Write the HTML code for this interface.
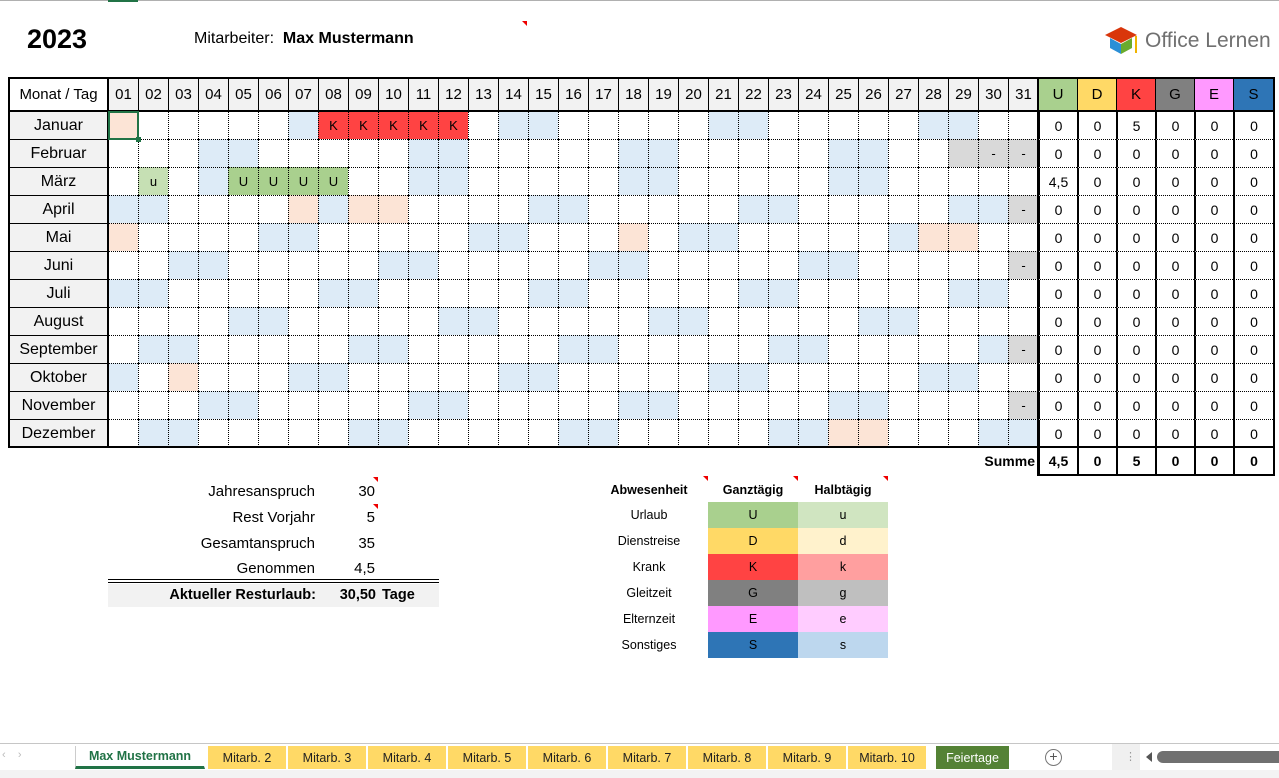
<!DOCTYPE html>
<html><head><meta charset="utf-8">
<style>
*{margin:0;padding:0;box-sizing:border-box}
body{width:1279px;height:778px;position:relative;background:#fff;font-family:"Liberation Sans",Arial,sans-serif;overflow:hidden;color:#000}
.a{position:absolute}
.c{position:absolute;display:flex;align-items:center;justify-content:center;font-size:14px}
.r{position:absolute;text-align:right;font-size:14px}
.tab{position:absolute;top:746px;height:23px;background:#ffd966;font-size:12.5px;display:flex;align-items:center;justify-content:center;color:#222;border-right:1px solid #fff}
</style></head><body>
<div class="a" style="left:0;top:0;width:1279px;height:1px;background:#b0b0b0"></div>
<div class="a" style="left:108px;top:0;width:30px;height:2px;background:#217346"></div>
<div class="a" style="left:27px;top:24px;font-size:27px;font-weight:bold">2023</div>
<div class="a" style="left:194px;top:30px;font-size:16px">Mitarbeiter:&nbsp; <b>Max Mustermann</b></div>
<div class="a" style="left:522px;top:21px;width:0;height:0;border-top:5px solid #e00;border-left:5px solid transparent"></div>
<!-- logo -->
<svg class="a" style="left:1103px;top:26px" width="40" height="30" viewBox="0 0 40 30">
<polygon points="2,9 18,1 34,9 18,17" fill="#d9360b"/>
<polygon points="7,12 18,18 18,28 7,22" fill="#2b8fd6"/>
<polygon points="18,18 29,12 29,22 18,28" fill="#6aab2e"/>
<rect x="32" y="10" width="2" height="17" fill="#f0b400"/>
</svg>
<div class="a" style="left:1145px;top:29px;font-size:21px;color:#707070">Office Lernen</div>

<div id="g"></div>

<!-- lower left -->
<div class="r" style="left:150px;width:165px;top:483px;font-size:15px">Jahresanspruch</div>
<div class="r" style="left:330px;width:45px;top:483px;font-size:15px">30</div>
<div class="r" style="left:150px;width:165px;top:509px;font-size:15px">Rest Vorjahr</div>
<div class="r" style="left:330px;width:45px;top:509px;font-size:15px">5</div>
<div class="r" style="left:150px;width:165px;top:535px;font-size:15px">Gesamtanspruch</div>
<div class="r" style="left:330px;width:45px;top:535px;font-size:15px">35</div>
<div class="r" style="left:150px;width:165px;top:560px;font-size:15px">Genommen</div>
<div class="r" style="left:330px;width:45px;top:560px;font-size:15px">4,5</div>
<div class="a" style="left:373px;top:477px;border-top:5px solid #e00;border-left:5px solid transparent"></div>
<div class="a" style="left:373px;top:504px;border-top:5px solid #e00;border-left:5px solid transparent"></div>
<div class="a" style="left:108px;top:579px;width:331px;height:4px;border-top:1px solid #000;border-bottom:1px solid #000"></div>
<div class="a" style="left:108px;top:584px;width:331px;height:23px;background:#f2f2f2"></div>
<div class="r" style="left:120px;width:196px;top:587px;font-size:14.5px;font-weight:bold">Aktueller Resturlaub:</div>
<div class="r" style="left:320px;width:56px;top:587px;font-size:14.5px;font-weight:bold">30,50</div>
<div class="a" style="left:382px;top:587px;font-size:14.5px;font-weight:bold">Tage</div>

<div id="leg"></div>

<!-- tabs -->
<div class="a" style="left:0;top:743px;width:1279px;height:1px;background:#c6c6c6"></div>
<div class="a" style="left:0;top:744px;width:1279px;height:26px;background:#fff"></div>
<div class="a" style="left:0;top:770px;width:1279px;height:8px;background:#f3f3f3"></div>
<div class="a" style="left:2px;top:749px;font-size:11px;color:#bbb">‹&nbsp;&nbsp;&nbsp;&nbsp;›</div>
<div class="tab" style="left:75px;width:130px;background:#fff;color:#217346;font-weight:bold;border-left:1px solid #ccc;border-bottom:3px solid #217346">Max Mustermann</div>
<div id="tabs"></div>
<div class="tab" style="left:936px;width:74px;background:#548235;color:#fff">Feiertage</div>
<div class="a" style="left:1045px;top:749px;width:17px;height:17px;border:1.5px solid #777;border-radius:50%;font-size:14px;line-height:13px;text-align:center;color:#555">+</div>
<div class="a" style="left:1112px;top:744px;width:28px;height:26px;background:#f0f0f0"></div>
<div class="a" style="left:1125px;top:750px;font-size:11px;color:#999">⋮</div>
<div class="a" style="left:1146px;top:752px;border-right:6px solid #555;border-top:5px solid transparent;border-bottom:5px solid transparent"></div>
<div class="a" style="left:1157px;top:751px;width:122px;height:12px;background:#707070;border-radius:6px 0 0 6px"></div>

<script>
var g=document.getElementById('g'),h='';
function box(x,y,w,hh,st,txt,cls){h+='<div class="'+(cls||'c')+'" style="left:'+x+'px;top:'+y+'px;width:'+w+'px;height:'+hh+'px;'+st+'">'+(txt||'')+'</div>';}
var X0=108,CW=30,Y0=111,RH=28;
var months=['Januar','Februar','März','April','Mai','Juni','Juli','August','September','Oktober','November','Dezember'];
var mdays=[31,28,31,30,31,30,31,31,30,31,30,31];
var hol={'1-1':1,'4-7':1,'4-9':1,'4-10':1,'5-1':1,'5-18':1,'5-28':1,'5-29':1,'10-3':1,'12-25':1,'12-26':1};
var BL='#ddebf7',PE='#fce4d6',GR='#d9d9d9';
// header
box(9,78,99,33,'background:#fff;font-size:15px','Monat / Tag');
for(var d=1;d<=31;d++)box(X0+(d-1)*CW,78,CW,33,'background:#f2f2f2;font-size:15px;border-left:1px solid #000',(d<10?'0':'')+d);
var sc=[['U','#a9d08e'],['D','#ffd966'],['K','#ff4343'],['G','#808080'],['E','#ff99ff'],['S','#2e75b6']];
var SX=[1038,1077,1116,1155,1194,1233,1273];
for(var i=0;i<6;i++)box(SX[i],78,SX[i+1]-SX[i],33,'background:'+sc[i][1]+';font-size:15px;border-left:1px solid #000',sc[i][0]);
var doy=0;
for(var m=0;m<12;m++){
 var y=Y0+m*RH;
 box(9,y,99,RH,'background:#f2f2f2;font-size:16px;border-top:1px solid #000',months[m]);
 for(var d=1;d<=31;d++){
  var bg='#fff',t='';
  if(d<=mdays[m]){
   var dow=(doy+d-1)%7; // 0=Sunday
   if(dow==0||dow==6)bg=BL;
   if(hol[(m+1)+'-'+d])bg=PE;
  } else {bg=GR; if(!(m==1&&d==29))t='-';}
  if(m==0&&d>=8&&d<=12){bg='#ff4343';t='K';}
  if(m==2&&d==2){bg='#c6e0b4';t='u';}
  if(m==2&&d>=5&&d<=8){bg='#a9d08e';t='U';}
  box(X0+(d-1)*CW,y,CW,RH,'background:'+bg+';font-size:13px;border-left:1px dotted #000;border-top:1px dotted #000',t);
 }
 doy+=mdays[m];
 var vals=['0','0','0','0','0','0'];
 if(m==0)vals[2]='5'; if(m==2)vals[0]='4,5';
 for(var i=0;i<6;i++)box(SX[i],y,SX[i+1]-SX[i],RH,'background:#fff;font-size:14px;border-left:2px solid #000;border-top:1px dotted #000',vals[i]);
}
// thick lines
h+='<div class="a" style="left:8px;top:77px;width:1267px;height:371px;border:2px solid #000"></div>';
h+='<div class="a" style="left:8px;top:110px;width:1267px;height:2px;background:#000"></div>';
h+='<div class="a" style="left:107px;top:77px;width:2px;height:371px;background:#000"></div>';
h+='<div class="a" style="left:1037px;top:77px;width:2px;height:399px;background:#000"></div>';
// selection
h+='<div class="a" style="left:108px;top:111px;width:31px;height:29px;border:2px solid #217346"></div>';
h+='<div class="a" style="left:136px;top:137px;width:5px;height:5px;background:#217346"></div>';
// summe
var sv=['4,5','0','5','0','0','0'];
box(940,447,95,28,'font-weight:bold;font-size:14px;justify-content:flex-end','Summe');
for(var i=0;i<6;i++)box(SX[i],447,SX[i+1]-SX[i],28,'font-weight:bold;font-size:14px;border-left:2px solid #000',sv[i]);
h+='<div class="a" style="left:1037px;top:446px;width:238px;height:30px;border:2px solid #000"></div>';
g.innerHTML=h;
// legend
h='';
box(590,480,118,20,'font-weight:bold;font-size:12.5px','Abwesenheit');
box(708,480,90,20,'font-weight:bold;font-size:12.5px','Ganztägig');
box(798,480,90,20,'font-weight:bold;font-size:12.5px','Halbtägig');
[703,793,883].forEach(function(x){h+='<div class="a" style="left:'+x+'px;top:476px;border-top:5px solid #e00;border-left:5px solid transparent"></div>';});
var L=[['Urlaub','#a9d08e','#d0e5c1','U','u'],['Dienstreise','#ffd966','#fff2cc','D','d'],['Krank','#ff4343','#ff9f9f','K','k'],['Gleitzeit','#808080','#bfbfbf','G','g'],['Elternzeit','#ff99ff','#ffccff','E','e'],['Sonstiges','#2e75b6','#bdd7ee','S','s']];
L.forEach(function(r,i){var y=502+i*26;
 box(590,y,118,26,'font-size:12.5px',r[0]);
 box(708,y,90,26,'font-size:12.5px;background:'+r[1],r[3]);
 box(798,y,90,26,'font-size:12.5px;background:'+r[2],r[4]);});
document.getElementById('leg').innerHTML=h;
h='';
for(var k=2;k<=10;k++){var x=208+(k-2)*80;h+='<div class="tab" style="left:'+x+'px;width:79px">Mitarb. '+k+'</div>';}
document.getElementById('tabs').innerHTML=h;
</script>
</body></html>
